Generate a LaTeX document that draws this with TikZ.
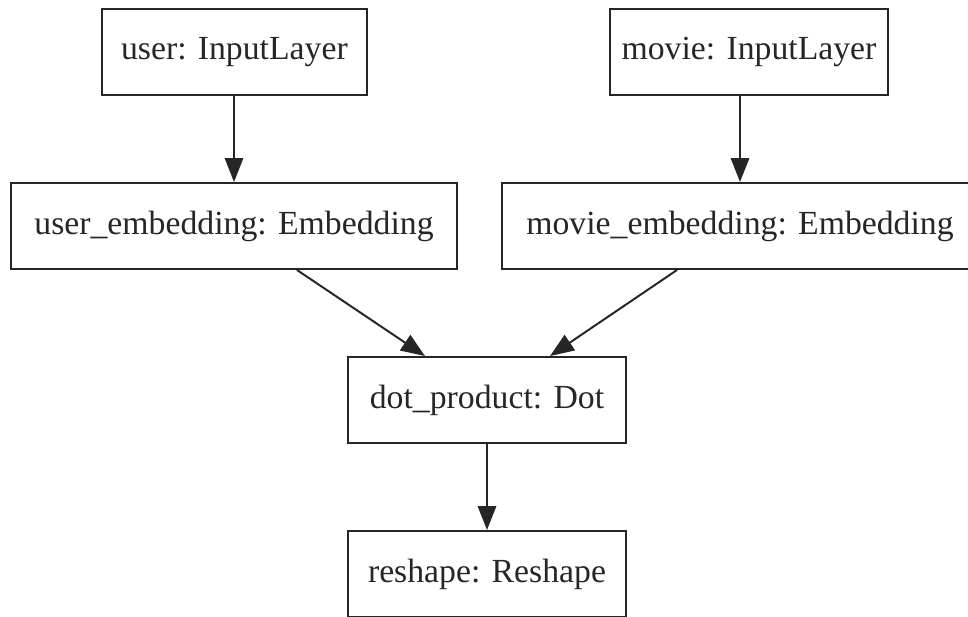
\documentclass[tikz,border=0pt]{standalone}
\usepackage{fontspec}
\setmainfont{Liberation Serif}
\usetikzlibrary{positioning,arrows.meta}

\begin{document}
\begin{tikzpicture}[line width=1.4pt,draw=black!85]
    \tikzstyle{layer}=[rectangle,draw,minimum height=2.15cm,inner sep=0pt,text=black!85,font=\fontsize{24}{28}\selectfont]
    \tikzstyle{link}=[-{Triangle[length=0.6cm,width=0.46cm]}]

    \useasboundingbox (0,0) rectangle (24.2,-15.4);

    % Input layers
    \node[layer,minimum width=6.625cm] (user) at (5.86,-1.31) {user: InputLayer};
    \node[layer,minimum width=6.95cm] (movie) at (18.725,-1.31) {movie: InputLayer};

    % Embedding layers
    \node[layer,minimum width=11.15cm] (user_emb) at (5.85,-5.65) {user\_embedding: Embedding};
    \node[layer,minimum width=11.9cm] (movie_emb) at (18.5,-5.65) {movie\_embedding: Embedding};

    % Merge and output
    \node[layer,minimum width=6.95cm] (dot) at (12.175,-10) {dot\_product: Dot};
    \node[layer,minimum width=6.95cm] (reshape) at (12.175,-14.35) {reshape: Reshape};

    % Connect the layers
    \draw[link] (user.south -| user_emb.north) -- (user_emb.north);
    \draw[link] (movie.south -| movie_emb.north) -- (movie_emb.north);
    \draw[link] ([xshift=1.575cm]user_emb.south) -- ([xshift=-1.55cm]dot.north);
    \draw[link] ([xshift=-1.575cm]movie_emb.south) -- ([xshift=1.575cm]dot.north);
    \draw[link] (dot) -- (reshape);
\end{tikzpicture}
\end{document}
